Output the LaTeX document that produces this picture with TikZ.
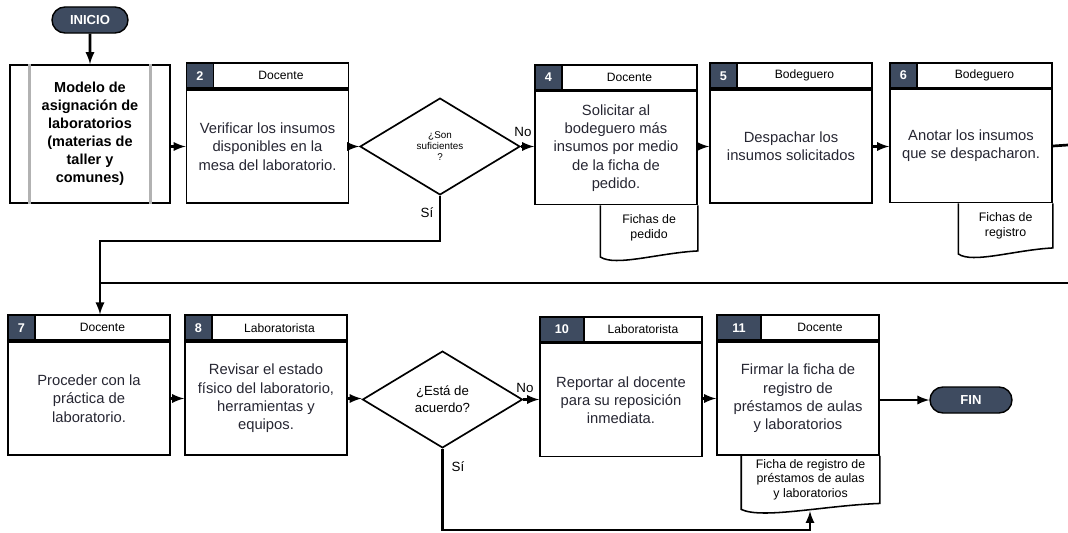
\documentclass[tikz,border=0pt]{standalone}
\usepackage{fontspec}
\setmainfont{Liberation Sans}
\usepackage{tikz}
\usetikzlibrary{shapes.geometric, shapes.misc, arrows, positioning, calc}
\definecolor{slate}{RGB}{62,75,96}
\definecolor{inkgray}{RGB}{38,38,50}

\begin{document}
\begin{tikzpicture}[
    x=0.025cm, y=-0.025cm,
    txt/.style={font=\fontsize{10.5}{13}\selectfont, text=inkgray, align=center},
    body/.style={rectangle, draw, line width=1.2pt, minimum width=4.05cm, minimum height=2.825cm, inner sep=0pt, txt},
    num/.style={rectangle, draw, line width=1.2pt, fill=slate, text=white, font=\fontsize{9}{10}\selectfont\bfseries, minimum width=0.675cm, minimum height=0.625cm, inner sep=0pt},
    wnum/.style={num, minimum width=1.1cm},
    role/.style={rectangle, draw, line width=1.2pt, font=\fontsize{8.6}{10}\selectfont, minimum width=3.375cm, minimum height=0.625cm, inner sep=0pt},
    wrole/.style={role, minimum width=2.95cm},
    pill/.style={rounded rectangle, draw, line width=1pt, fill=slate, text=white, font=\fontsize{9.3}{10}\selectfont\bfseries, minimum height=0.65cm, inner sep=0pt},
    decision/.style={diamond, draw, line width=1.2pt, minimum width=4cm, minimum height=2.42cm, inner sep=0pt, align=center},
    doc/.style={rectangle, inner sep=0pt, align=center, font=\fontsize{8.8}{10.5}\selectfont},
    docline/.style={line width=1.1pt},
    lbl/.style={font=\fontsize{9.5}{10}\selectfont},
    arrow/.style={-latex, line width=1.9pt},
    link/.style={line width=1.9pt}
]
\useasboundingbox (0,0) rectangle (1068,533);

% Start
\node[pill, minimum width=1.9cm] (start) at (90,20) {INICIO};

% Row 1
\node[body, minimum width=4cm, minimum height=3.45cm, font=\fontsize{10.3}{12.8}\selectfont\bfseries, text=black] (t1) at (90,134) {Modelo de\\asignación de\\laboratorios\\(materias de\\taller y\\comunes)};
\draw[line width=2.2pt, gray!60] ($(t1.north west)+(20,0)$) -- ($(t1.south west)+(20,0)$);
\draw[line width=2.2pt, gray!60] ($(t1.north east)+(-20,0)$) -- ($(t1.south east)+(-20,0)$);

\node[body] (t2) at (267.5,146.5) {Verificar los insumos\\disponibles en la\\mesa del laboratorio.};
\node[num, anchor=south west] (n2) at (t2.north west) {2};
\node[role, anchor=south east] (r2) at (t2.north east) {Docente};

\node[decision, font=\fontsize{7}{7.8}\selectfont] (d3) at (440,146.5) {¿Son\\suficientes\\?};

\node[body] (t4) at (616,148) {Solicitar al\\bodeguero más\\insumos por medio\\de la ficha de\\pedido.};
\node[num, anchor=south west] (n4) at (t4.north west) {4};
\node[role, anchor=south east] (r4) at (t4.north east) {Docente};
\node[doc, anchor=north east, minimum width=2.425cm, minimum height=1.125cm] (f4) at (t4.south east) {Fichas de\\pedido};
\draw[docline] (f4.north west) -- (f4.south west) -- ++(0,6) .. controls +(15,10) and +(-39,2) .. (f4.south east) -- (f4.north east);

\node[body] (t5) at (791,146.5) {Despachar los\\insumos solicitados};
\node[num, anchor=south west] (n5) at (t5.north west) {5};
\node[role, anchor=south east] (r5) at (t5.north east) {Bodeguero};

\node[body] (t6) at (971,146) {Anotar los insumos\\que se despacharon.};
\node[num, anchor=south west] (n6) at (t6.north west) {6};
\node[role, anchor=south east] (r6) at (t6.north east) {Bodeguero};
\node[doc, anchor=north east, minimum width=2.35cm, minimum height=1.1cm] (f6) at (t6.south east) {Fichas de\\registro};
\draw[docline] (f6.north west) -- (f6.south west) -- ++(0,6) .. controls +(14,10) and +(-38,2) .. (f6.south east) -- (f6.north east);

% Row 2
\node[body] (t7) at (89,398.5) {Proceder con la\\práctica de\\laboratorio.};
\node[num, anchor=south west] (n7) at (t7.north west) {7};
\node[role, anchor=south east] (r7) at (t7.north east) {Docente};

\node[body] (t8) at (266,398.5) {Revisar el estado\\físico del laboratorio,\\herramientas y\\equipos.};
\node[num, anchor=south west] (n8) at (t8.north west) {8};
\node[role, anchor=south east] (r8) at (t8.north east) {Laboratorista};

\node[decision, font=\fontsize{9.4}{12}\selectfont] (d9) at (442.5,399.5) {¿Está de\\acuerdo?};

\node[body] (t10) at (621,400) {Reportar al docente\\para su reposición\\inmediata.};
\node[wnum, anchor=south west] (n10) at (t10.north west) {10};
\node[wrole, anchor=south east] (r10) at (t10.north east) {Laboratorista};

\node[body] (t11) at (798,398.5) {Firmar la ficha de\\registro de\\préstamos de aulas\\y laboratorios};
\node[wnum, anchor=south west] (n11) at (t11.north west) {11};
\node[wrole, anchor=south east] (r11) at (t11.north east) {Docente};
\node[doc, anchor=north east, minimum width=3.45cm, minimum height=1.175cm] (f11) at (t11.south east) {Ficha de registro de\\préstamos de aulas\\y laboratorios};
\draw[docline] (f11.north west) -- (f11.south west) -- ++(0,6) .. controls +(21,10) and +(-55,2) .. (f11.south east) -- (f11.north east);

% End
\node[pill, minimum width=2.05cm] (stop) at (971,400) {FIN};

% Branch labels
\node[lbl] (no1) at (523,132) {No};
\node[lbl] (si1) at (427,213) {Sí};
\node[lbl] (no2) at (525,388) {No};
\node[lbl] (si2) at (458,467) {Sí};

% Turning points
\coordinate (join) at (100,241);
\coordinate (wrapA) at (1068,145);
\coordinate (wrapB) at (1068,283);
\coordinate (back) at (810,530);
\coordinate (foot) at (810,511);

% Arrows
\draw[arrow] (start) -- (t1);
\draw[arrow] (t1.east |- t2.west) -- (t2.west);
\draw[arrow] (t2) -- (d3);
\draw[arrow] (d3.east) -- (d3.east -| t4.west);
\draw[arrow] (t4.east |- t5.west) -- (t5.west);
\draw[arrow] (t5.east) -- (t5.east -| t6.west);
\draw[link] (t6.east) -- (wrapA);
\draw[link] (wrapB) -- (wrapB -| join);
\draw[arrow] (d3.south) -- (d3.south |- join) -- (join) -- (join |- r7.north);

\draw[arrow] (t7) -- (t8);
\draw[arrow] (t8.east) -- (t8.east -| d9.west);
\draw[arrow] (d9.east) -- (d9.east -| t10.west);
\draw[arrow] (t10.east |- t11.west) -- (t11.west);
\draw[arrow] (t11.east |- stop) -- (stop.west);
\draw[arrow] (d9.south) -- (d9.south |- back) -- (back) -- (foot);

\end{tikzpicture}
\end{document}
